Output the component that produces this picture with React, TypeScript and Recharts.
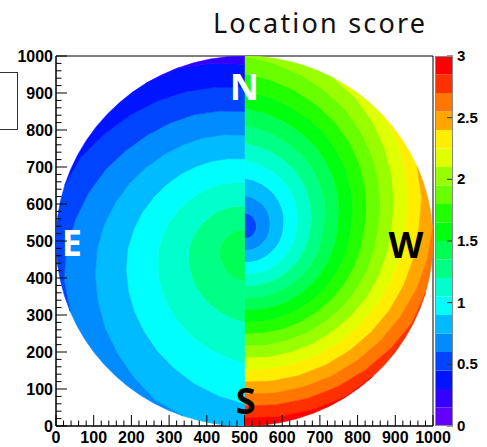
import React from 'react';
import { ScatterChart, Scatter, XAxis, YAxis, ReferenceArea, BarChart, Bar } from 'recharts';

// ROOT default palette, 20 contour levels between 0 and 3
const palette = [
  '#6300ff', '#3300ff', '#0014ff', '#0044ff', '#008bff', '#00bbff', '#00fffc', '#00ffcc', '#00ff85', '#00ff55',
  '#00ff0e', '#22ff00', '#69ff00', '#99ff00', '#e0ff00', '#ffee00', '#ffa700', '#ff7700', '#ff3000', '#ff0000',
];
const contourLevels = [0, 0.15, 0.3, 0.45, 0.6, 0.75, 0.9, 1.05, 1.2, 1.35, 1.5, 1.65, 1.8, 1.95, 2.1, 2.25, 2.4, 2.55, 2.7, 2.85, 3];
const scaleTicks = [0, 0.5, 1, 1.5, 2, 2.5, 3];
const axisTicks = [0, 100, 200, 300, 400, 500, 600, 700, 800, 900, 1000];

// rays from the eye of each half, degrees away from north
const rayAngles = [0, 10, 20, 30, 40, 50, 60, 70, 80, 90, 100, 110, 120, 130, 140, 150, 160, 170, 180];

// west half (right): eye level, then distance along each ray where the next level starts
const westEye = { x: 500, y: 535, level: 3 };
const westEdges = [
  [41, 88, 135, 182, 230, 277, 324, 371, 418],
  [40, 86, 131, 177, 223, 269, 315, 361, 406, 452],
  [39, 83, 128, 172, 217, 261, 306, 350, 395, 440],
  [38, 81, 124, 168, 211, 254, 298, 341, 384, 428],
  [37, 79, 121, 163, 206, 248, 290, 332, 374, 417, 459],
  [35, 76, 117, 158, 199, 240, 281, 322, 363, 404, 445],
  [34, 74, 113, 153, 193, 232, 272, 311, 351, 391, 430, 470],
  [33, 71, 110, 148, 186, 225, 263, 301, 340, 378, 416, 454],
  [32, 69, 106, 144, 181, 218, 255, 292, 329, 366, 403, 440, 477],
  [31, 67, 103, 139, 175, 211, 247, 283, 319, 355, 391, 427, 463],
  [31, 66, 102, 137, 173, 208, 244, 279, 314, 350, 385, 421, 456, 492],
  [30, 65, 100, 135, 170, 205, 240, 275, 310, 345, 380, 415, 450, 485],
  [30, 64, 99, 133, 168, 202, 237, 271, 306, 340, 375, 409, 444, 478, 513],
  [29, 63, 97, 131, 165, 200, 234, 268, 302, 336, 370, 404, 438, 472, 506],
  [29, 63, 96, 130, 164, 197, 231, 265, 298, 332, 365, 399, 433, 466, 500],
  [29, 62, 95, 129, 162, 195, 229, 262, 295, 328, 362, 395, 428, 462, 495, 528],
  [29, 62, 95, 127, 160, 193, 226, 259, 292, 325, 358, 391, 424, 457, 490, 523],
  [28, 61, 94, 126, 159, 192, 224, 257, 289, 322, 355, 387, 420, 453, 485, 518],
  [28, 60, 93, 125, 157, 190, 222, 254, 287, 319, 351, 384, 416, 448, 481, 513],
];

// east half (left): levels go down away from the eye
const eastEye = { x: 500, y: 478, level: 9 };
const eastEdges = [
  [51, 115, 180, 244, 308, 372, 436, 500],
  [52, 118, 183, 248, 314, 379, 444, 510],
  [53, 120, 187, 253, 320, 387, 453, 520],
  [54, 122, 190, 258, 326, 394, 462],
  [56, 125, 194, 264, 333, 402, 472],
  [57, 128, 199, 271, 342, 413, 484],
  [59, 132, 206, 279, 353, 427, 500],
  [61, 137, 213, 289, 365, 441],
  [63, 142, 220, 299, 378, 456],
  [65, 147, 228, 310, 391, 473],
  [67, 151, 235, 319, 402, 486],
  [69, 155, 242, 328, 414],
  [71, 160, 249, 338, 427],
  [73, 165, 257, 348, 440],
  [76, 171, 266, 360, 455],
  [79, 177, 275, 373, 472],
  [82, 184, 286, 388],
  [85, 191, 297, 403],
  [88, 199, 309, 419],
];

const compassLabels = [
  { x: 500, y: 915, name: 'N', color: '#ffffff' },
  { x: 42, y: 495, name: 'E', color: '#ffffff' },
  { x: 928, y: 490, name: 'W', color: '#000000' },
  { x: 503, y: 68, name: 'S', color: '#000000' },
];

const DISK = { cx: 500, cy: 500, r: 500 };

type Pt = { x: number; y: number; rim?: boolean };
type Eye = { x: number; y: number; level: number };

function rimDistance(eye: Eye, ux: number, uy: number) {
  const ex = eye.x - DISK.cx;
  const ey = eye.y - DISK.cy;
  const b = ex * ux + ey * uy;
  return -b + Math.sqrt(b * b - (ex * ex + ey * ey - DISK.r * DISK.r));
}

function buildBands(eye: Eye, edges: number[][], side: number, step: number) {
  const rays = rayAngles.map((deg, j) => {
    const a = (deg * Math.PI) / 180;
    const ux = side * Math.sin(a);
    const uy = Math.cos(a);
    return { ux, uy, rim: rimDistance(eye, ux, uy), edges: edges[j] };
  });
  const at = (ray: { ux: number; uy: number; rim: number }, edge?: number): Pt => {
    const onRim = edge === undefined || edge >= ray.rim;
    const d = onRim ? ray.rim : edge;
    return { x: eye.x + ray.ux * d, y: eye.y + ray.uy * d, rim: onRim };
  };
  const count = Math.max(...edges.map((e) => e.length));
  const bands: { level: number; points: Pt[] }[] = [];
  for (let i = 0; i <= count; i++) {
    // rays on which this level is present, plus one neighbour each side
    const present = rays.map((r) => i === 0 || (r.edges[i - 1] !== undefined && r.edges[i - 1] < r.rim));
    const first = Math.max(0, present.indexOf(true) - 1);
    const last = Math.min(rays.length - 1, present.lastIndexOf(true) + 1);
    const span = rays.slice(first, last + 1);
    const outer = span.map((r) => at(r, r.edges[i]));
    const inner = span.map((r) => (i === 0 ? { x: eye.x, y: eye.y, rim: false } : at(r, r.edges[i - 1]))).reverse();
    bands.push({ level: eye.level + step * i, points: [...outer, ...inner] });
  }
  return bands;
}

const bands = [...buildBands(westEye, westEdges, 1, 1), ...buildBands(eastEye, eastEdges, -1, -1)];

const minorTicks: number[] = [];
for (let v = 0; v <= 1000; v += 20) minorTicks.push(v);

const labelFont = { fontFamily: '"Liberation Sans", Arial, sans-serif', fontWeight: 700, fontSize: 16 };

// filled band outline; stretches along the disk edge are drawn as arcs
const bandLine = (fill: string, data: Pt[]) => (props: any) => {
  const pts: { x: number; y: number }[] = props.points || [];
  if (pts.length !== data.length || !pts.length) return <g />;
  let jx = 0;
  let jy = 0;
  data.forEach((p, j) => {
    if (Math.abs(p.x - data[0].x) > Math.abs(data[jx].x - data[0].x)) jx = j;
    if (Math.abs(p.y - data[0].y) > Math.abs(data[jy].y - data[0].y)) jy = j;
  });
  const kx = (pts[jx].x - pts[0].x) / (data[jx].x - data[0].x || 1);
  const ky = (pts[jy].y - pts[0].y) / (data[jy].y - data[0].y || 1);
  const c = { x: pts[0].x + kx * (DISK.cx - data[0].x), y: pts[0].y + ky * (DISK.cy - data[0].y) };
  const rx = Math.abs(kx * DISK.r);
  const ry = Math.abs(ky * DISK.r);
  let d = `M${pts[0].x.toFixed(2)},${pts[0].y.toFixed(2)}`;
  for (let i = 1; i < pts.length; i++) {
    const a = pts[i - 1];
    const b = pts[i];
    const dist = Math.hypot(b.x - a.x, b.y - a.y);
    if (dist < 0.01) continue;
    if (data[i - 1].rim && data[i].rim) {
      const cross = (a.x - c.x) * (b.y - c.y) - (a.y - c.y) * (b.x - c.x);
      d += `A${rx.toFixed(2)},${ry.toFixed(2)} 0 0 ${cross > 0 ? 1 : 0} ${b.x.toFixed(2)},${b.y.toFixed(2)}`;
    } else {
      d += `L${b.x.toFixed(2)},${b.y.toFixed(2)}`;
    }
  }
  d += 'Z';
  return <path d={d} fill={fill} stroke={fill} strokeWidth={0.6} strokeLinejoin="round" />;
};

const noShape = () => <g />;

const LetterShape = (props: any) => {
  const { cx, cy, payload } = props;
  return (
    <text
      x={cx}
      y={cy + 13}
      textAnchor="middle"
      fill={payload.color}
      style={{ fontFamily: '"Noto Sans", sans-serif', fontWeight: 700, fontSize: 36 }}
    >
      {payload.name}
    </text>
  );
};

const XTick = (props: any) => {
  const { x, y, payload } = props;
  const major = axisTicks.includes(payload.value);
  return (
    <g>
      <line x1={x} y1={y} x2={x} y2={y - (major ? 11 : 5.5)} stroke="#000" />
      {major && (
        <text x={x} y={y + 17} textAnchor="middle" fill="#000" style={labelFont}>
          {payload.value}
        </text>
      )}
    </g>
  );
};

const YTick = (props: any) => {
  const { x, y, payload } = props;
  const major = axisTicks.includes(payload.value);
  return (
    <g>
      <line x1={x} y1={y} x2={x + (major ? 11 : 5.5)} y2={y} stroke="#000" />
      {major && (
        <text x={x - 3} y={y + 6} textAnchor="end" fill="#000" style={labelFont}>
          {payload.value}
        </text>
      )}
    </g>
  );
};

const ScaleTick = (props: any) => {
  const { x, y, payload } = props;
  return (
    <g>
      <line x1={x} y1={y} x2={x - 6} y2={y} stroke="#333" />
      <text x={x + 4} y={y + 5} fill="#000" style={{ ...labelFont, fontSize: 15 }}>
        {payload.value}
      </text>
    </g>
  );
};

const scaleRow: Record<string, number | string> = { name: 'score' };
palette.forEach((_, k) => {
  scaleRow[`b${k}`] = +(contourLevels[k + 1] - contourLevels[k]).toFixed(2);
});
const scaleData = [scaleRow];

export default function App() {
  return (
    <div style={{ position: 'absolute', left: 0, top: 0, width: 487, height: 447, background: '#fff' }}>
      <svg width={487} height={44} style={{ position: 'absolute', left: 0, top: 0 }}>
        <text x={213} y={33} fill="#111" style={{ fontFamily: '"Noto Sans", sans-serif', fontSize: 27, letterSpacing: 2.2 }}>
          Location score
        </text>
      </svg>
      <div
        style={{ position: 'absolute', left: -2, top: 72, width: 18, height: 56, border: '1px solid #333' }}
      />
      <div style={{ position: 'absolute', left: 0, top: 0 }}>
        <ScatterChart width={487} height={447} margin={{ top: 56, right: 54, bottom: 0, left: 0 }}>
          <XAxis
            type="number"
            dataKey="x"
            domain={[0, 1000]}
            allowDataOverflow
            ticks={minorTicks}
            interval={0}
            tickLine={false}
            tickSize={0}
            tickMargin={0}
            height={21}
            axisLine={{ stroke: '#000' }}
            tick={<XTick />}
          />
          <YAxis
            type="number"
            dataKey="y"
            domain={[0, 1000]}
            allowDataOverflow
            ticks={minorTicks}
            interval={0}
            tickLine={false}
            tickSize={0}
            tickMargin={0}
            width={56}
            axisLine={{ stroke: '#000' }}
            tick={<YTick />}
          />
          {bands.map((band, i) => (
            <Scatter
              key={`band-${i}`}
              data={band.points}
              fill={palette[band.level]}
              line={bandLine(palette[band.level], band.points)}
              lineType="joint"
              shape={noShape}
              isAnimationActive={false}
            />
          ))}
          <Scatter data={compassLabels} shape={<LetterShape />} isAnimationActive={false} />
          <ReferenceArea x1={0} x2={1000} y1={0} y2={1000} fill="none" stroke="#000" strokeWidth={1} ifOverflow="visible" />
        </ScatterChart>
      </div>
      <div style={{ position: 'absolute', left: 435, top: 0 }}>
        <BarChart width={52} height={447} data={scaleData} margin={{ top: 56, right: 0, bottom: 21, left: 0 }} barCategoryGap={0}>
          <XAxis dataKey="name" hide />
          <YAxis
            orientation="right"
            domain={[0, 3]}
            ticks={scaleTicks}
            interval={0}
            width={34}
            tickLine={false}
            tickSize={0}
            tickMargin={0}
            axisLine={false}
            tick={<ScaleTick />}
          />
          {palette.map((c, k) => (
            <Bar key={`b${k}`} dataKey={`b${k}`} stackId="s" fill={c} isAnimationActive={false} />
          ))}
        </BarChart>
      </div>
      <div
        style={{ position: 'absolute', left: 435, top: 56, width: 18, height: 370, border: '1px solid #888', boxSizing: 'border-box', pointerEvents: 'none' }}
      />
    </div>
  );
}
